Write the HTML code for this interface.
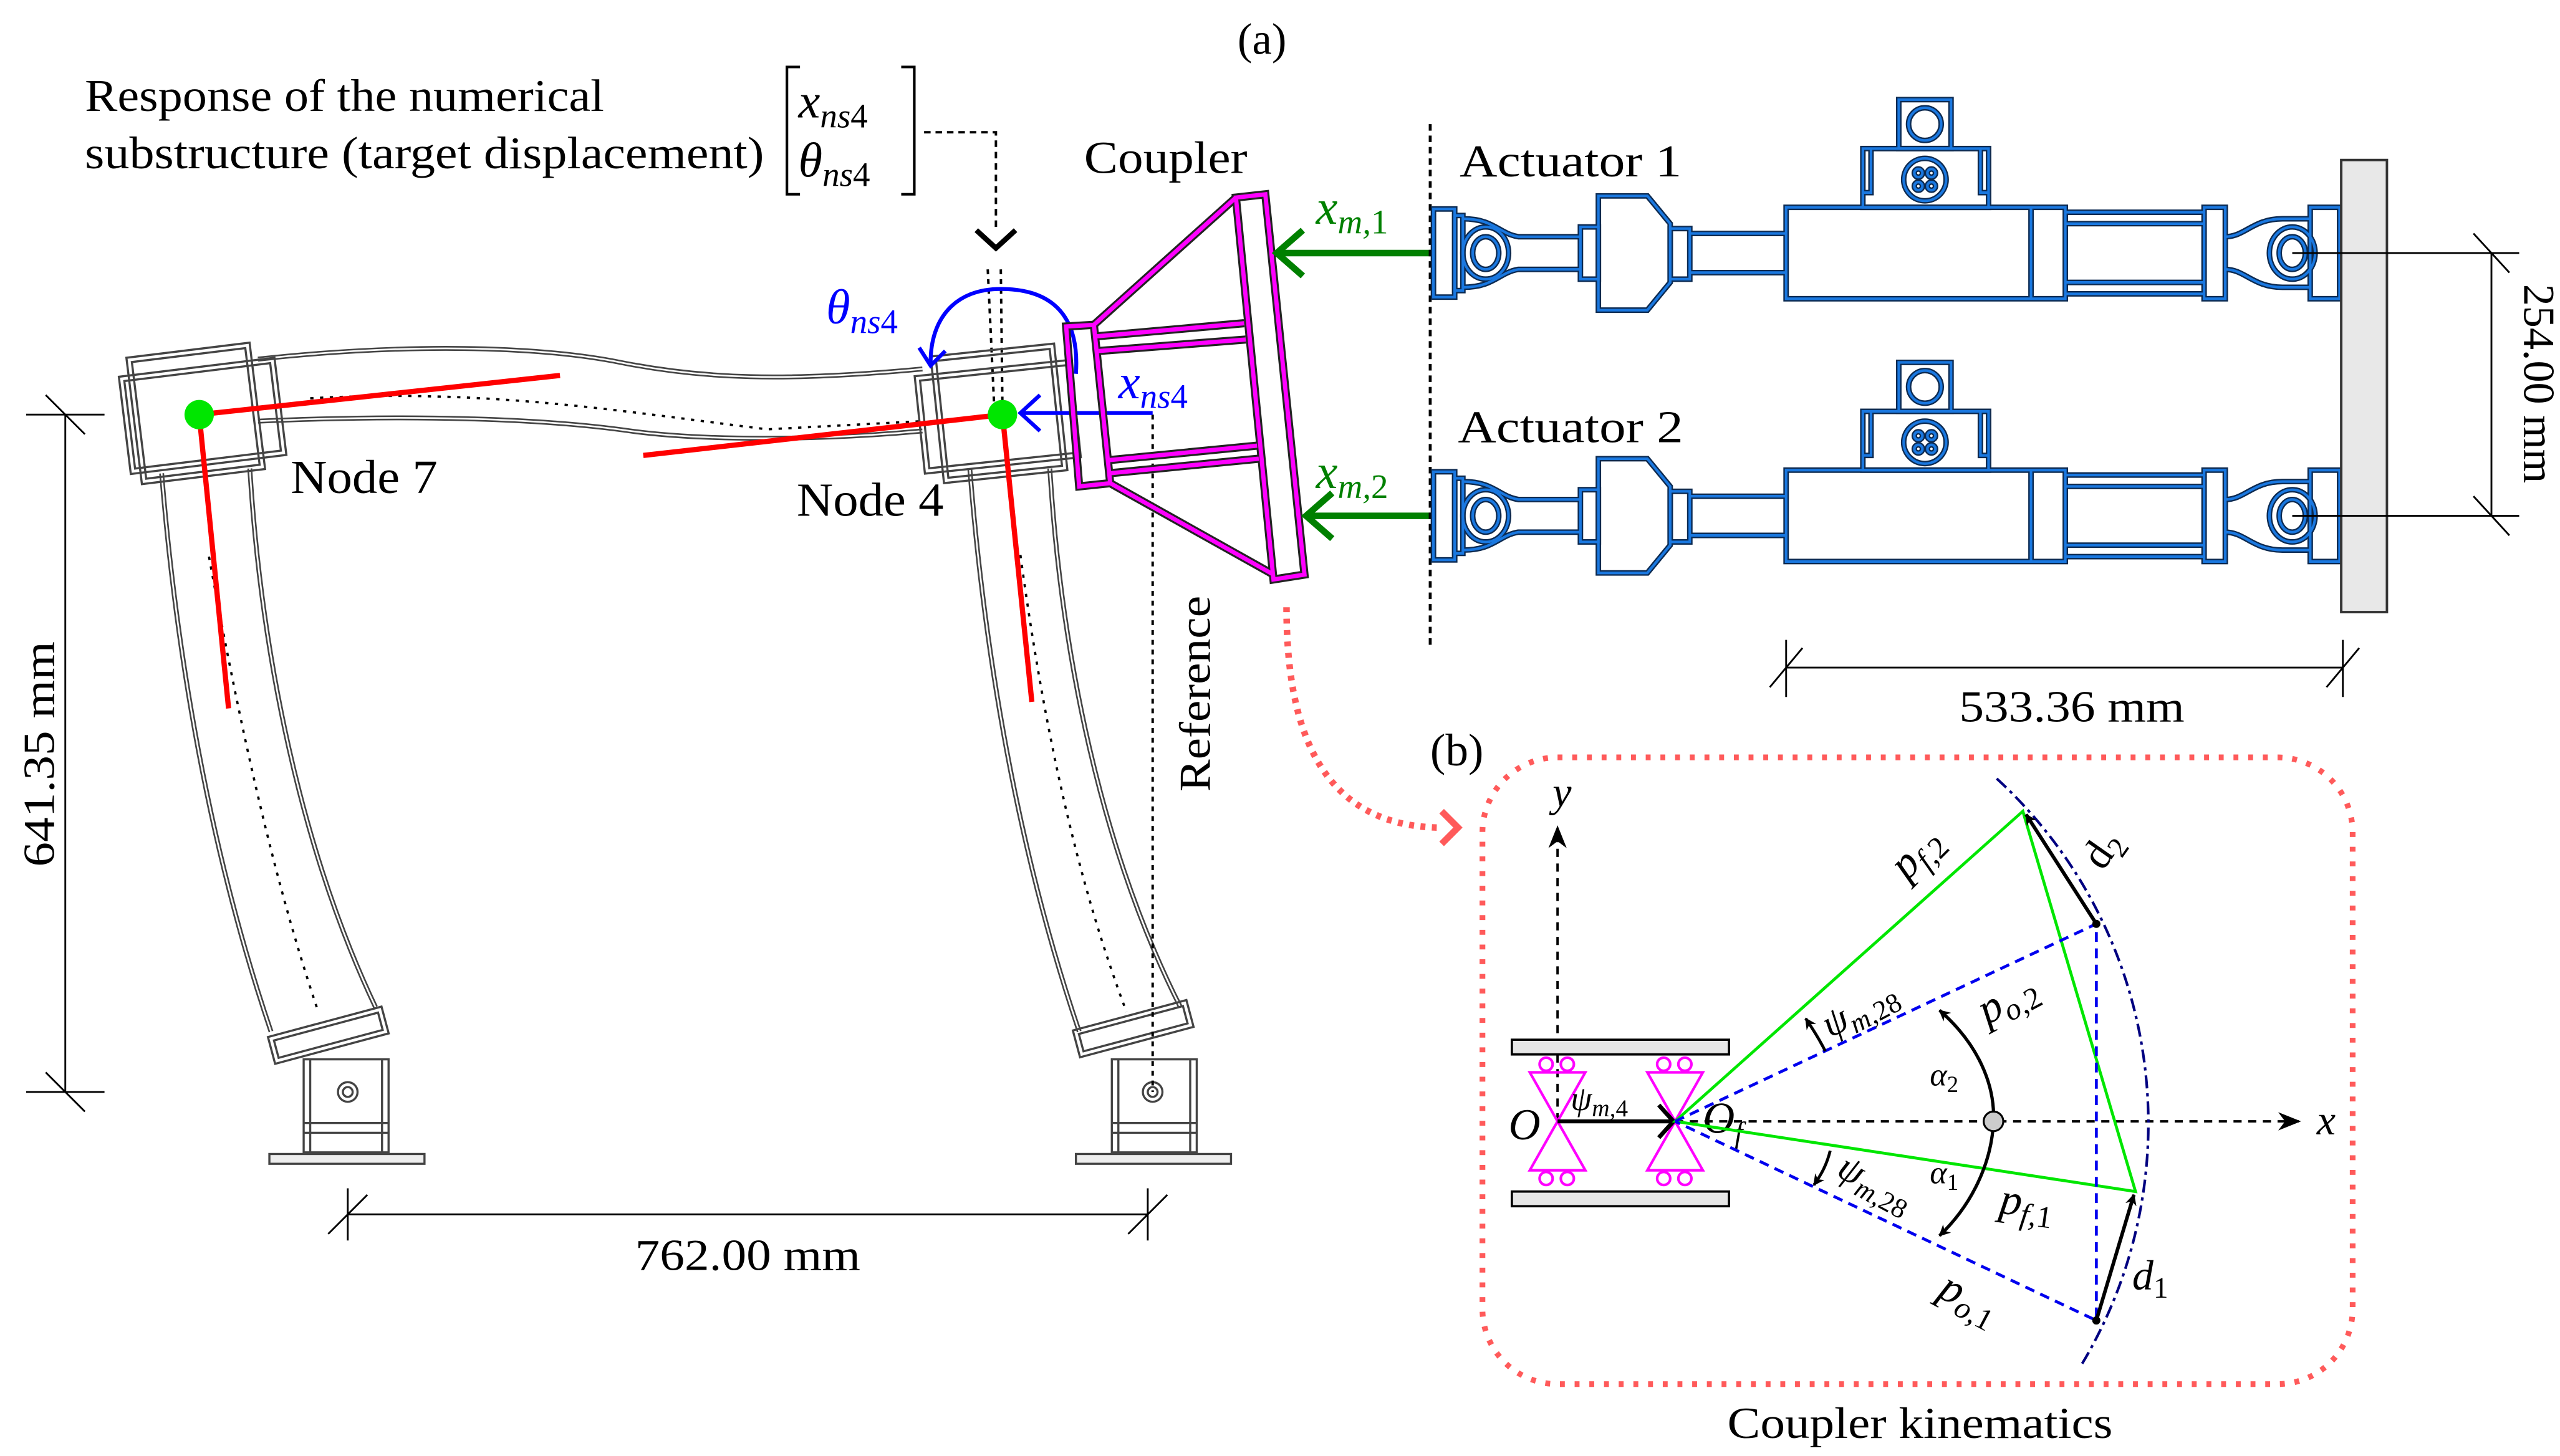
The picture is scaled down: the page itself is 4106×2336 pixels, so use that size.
<!DOCTYPE html>
<html><head><meta charset="utf-8"><style>
html,body{margin:0;padding:0;background:#fff;}
svg{display:block;}
text{font-family:"Liberation Serif",serif;fill:#000;}
.it{font-style:italic;}
</style></head><body>
<svg width="4106" height="2336" viewBox="0 0 1568 892" xmlns="http://www.w3.org/2000/svg">
<defs>
<marker id="ah" viewBox="0 0 10 10" refX="9" refY="5" markerWidth="7" markerHeight="7" orient="auto-start-reverse" markerUnits="userSpaceOnUse"><path d="M0,0 L10,5 L0,10 L3,5z" fill="#000"/></marker>
<marker id="ahs" viewBox="0 0 10 10" refX="9" refY="5" markerWidth="14" markerHeight="14" orient="auto-start-reverse" markerUnits="userSpaceOnUse"><path d="M0,1 L10,5 L0,9 L3,5z" fill="#000"/></marker>
</defs>

<text x="758" y="33" font-size="27">(a)</text>
<text x="52" y="68" font-size="28" textLength="318" lengthAdjust="spacingAndGlyphs">Response of the numerical</text>
<text x="52" y="103" font-size="28" textLength="416" lengthAdjust="spacingAndGlyphs">substructure (target displacement)</text>
<path d="M490,41 H482 V119 H490 M552,41 H560 V119 H552" fill="none" stroke="#000" stroke-width="1.6"/>
<text x="489" y="72" font-size="30" class="it">x<tspan font-size="21" dy="6">ns</tspan><tspan font-size="21" font-style="normal">4</tspan></text>
<text x="489" y="108" font-size="30" class="it">θ<tspan font-size="21" dy="6">ns</tspan><tspan font-size="21" font-style="normal">4</tspan></text>
<path d="M566,81 H610 V142" fill="none" stroke="#000" stroke-width="1.5" stroke-dasharray="4,3"/>
<path d="M598,141 L610,152 L622,141" fill="none" stroke="#000" stroke-width="3.2"/>
<path d="M605,165 L609,250 M613,165 L614,250" stroke="#000" stroke-width="1.5" stroke-dasharray="3,3"/>

<g fill="none">
<g stroke="#444" stroke-width="3"><path d="M99,290 C108,400 128,520 166,632"/><path d="M153,287 C160,400 184,520 230,617"/>
<path d="M594,287 C603,400 623,520 661,632"/><path d="M643,287 C650,400 674,520 723,617"/>
<path d="M158,220 C250,210 330,212 380,222 C430,232 480,234 565,226"/>
<path d="M158,258 C250,254 330,256 386,264 C430,270 500,270 565,264"/></g>
<g stroke="#fff" stroke-width="1"><path d="M99,290 C108,400 128,520 166,632"/><path d="M153,287 C160,400 184,520 230,617"/>
<path d="M594,287 C603,400 623,520 661,632"/><path d="M643,287 C650,400 674,520 723,617"/>
<path d="M158,220 C250,210 330,212 380,222 C430,232 480,234 565,226"/>
<path d="M158,258 C250,254 330,256 386,264 C430,270 500,270 565,264"/></g>
<g stroke="#000" stroke-width="1.4" stroke-dasharray="2,4">
<path d="M190,244 C300,238 380,252 470,263 L565,258"/>
<path d="M128,341 C148,450 168,540 195,620"/>
<path d="M625,340 C640,450 660,540 690,620"/>
</g>
</g>
<g fill="none" stroke="#444" stroke-width="1.3">
<g transform="rotate(-7 122 254)">
<rect x="82" y="214" width="76" height="78"/><rect x="85" y="217" width="70" height="72"/>
<rect x="76" y="225" width="96" height="60"/><rect x="79" y="228" width="90" height="54"/>
</g>
<g transform="rotate(-6 614 254)">
<rect x="574" y="214" width="76" height="78"/><rect x="577" y="217" width="70" height="72"/>
<rect x="563" y="225" width="96" height="60"/><rect x="566" y="228" width="90" height="54"/>
</g>
<g transform="rotate(-15 200 634)"><rect x="165" y="626" width="72" height="17"/><rect x="168" y="629" width="66" height="11"/></g>
<g transform="rotate(-15 693 630)"><rect x="658" y="622" width="72" height="17"/><rect x="661" y="625" width="66" height="11"/></g>
<rect x="186" y="649" width="52" height="57"/><path d="M190,649 V706 M234,649 V706 M186,688 H238 M186,694 H238"/>
<circle cx="213" cy="669" r="6"/><circle cx="213" cy="669" r="3"/>
<rect x="165" y="707" width="95" height="6" fill="#eee"/>
<rect x="681" y="649" width="52" height="57"/><path d="M685,649 V706 M729,649 V706 M681,688 H733 M681,694 H733"/>
<circle cx="706" cy="669" r="6"/><circle cx="706" cy="669" r="3"/>
<rect x="659" y="707" width="95" height="6" fill="#eee"/>
</g>
<g stroke="#ff0000" stroke-width="3.2" fill="none">
<path d="M122,254 L343,230"/><path d="M122,254 L140,434"/>
<path d="M614,254 L394,279"/><path d="M614,254 L632,430"/>
</g>
<circle cx="122" cy="254" r="9" fill="#00e600"/>
<circle cx="614" cy="254" r="9" fill="#00e600"/>
<text x="178" y="302" font-size="29" textLength="90" lengthAdjust="spacingAndGlyphs">Node 7</text>
<text x="488" y="316" font-size="29" textLength="90" lengthAdjust="spacingAndGlyphs">Node 4</text>

<path d="M706,254 V669" stroke="#000" stroke-width="1.5" stroke-dasharray="3,3"/>
<text transform="translate(741,425) rotate(-90)" font-size="27" text-anchor="middle" textLength="120" lengthAdjust="spacingAndGlyphs">Reference</text>
<path d="M706,253 H626" stroke="#0000ff" stroke-width="2.4"/>
<path d="M637,242 L625,253 L637,264" fill="none" stroke="#0000ff" stroke-width="2.4"/>
<text x="685" y="244" font-size="30" class="it" style="fill:#0000ff">x<tspan font-size="21" dy="6">ns</tspan><tspan font-size="21" font-style="normal">4</tspan></text>
<path d="M659,229 C662,185 635,177 613,177 C585,177 570,195 570,222" fill="none" stroke="#0000ff" stroke-width="2.4"/>
<path d="M563,213 L570,224 L579,215" fill="none" stroke="#0000ff" stroke-width="2.4"/>
<text x="506" y="198" font-size="30" class="it" style="fill:#0000ff">θ<tspan font-size="21" dy="6">ns</tspan><tspan font-size="21" font-style="normal">4</tspan></text>

<text x="664" y="106" font-size="28" textLength="100" lengthAdjust="spacingAndGlyphs">Coupler</text>
<g fill="none" stroke-linejoin="miter">
<g stroke="#222" stroke-width="5">
<path d="M757,121 L775,119 L799,352 L780,355 Z"/>
<path d="M653,200 L670,199 L680,296 L661,298 Z"/>
<path d="M670,199 L757,121 M680,296 L780,352"/>
<path d="M672,206 L762,198 M673,215 L763,208 M678,282 L770,273 M679,290 L771,281"/>
</g>
<g stroke="#ff00ff" stroke-width="2.6">
<path d="M757,121 L775,119 L799,352 L780,355 Z"/>
<path d="M653,200 L670,199 L680,296 L661,298 Z"/>
<path d="M670,199 L757,121 M680,296 L780,352"/>
<path d="M672,206 L762,198 M673,215 L763,208 M678,282 L770,273 M679,290 L771,281"/>
</g>
</g>
<g stroke="#008000" stroke-width="4" fill="none">
<path d="M878,155 H782"/><path d="M798,141 L782,155 L798,169"/>
<path d="M878,316 H800"/><path d="M816,302 L800,316 L816,330"/>
</g>
<text x="806" y="137" font-size="30" class="it" style="fill:#008000">x<tspan font-size="21" dy="6">m,</tspan><tspan font-size="21" font-style="normal">1</tspan></text>
<text x="806" y="299" font-size="30" class="it" style="fill:#008000">x<tspan font-size="21" dy="6">m,</tspan><tspan font-size="21" font-style="normal">2</tspan></text>

<path d="M876,76 V397" stroke="#000" stroke-width="1.8" stroke-dasharray="4,3"/>
<text x="894" y="108" font-size="28" textLength="136" lengthAdjust="spacingAndGlyphs">Actuator 1</text>
<text x="893" y="271" font-size="28" textLength="138" lengthAdjust="spacingAndGlyphs">Actuator 2</text>
<g id="act" fill="none">
<g id="actp">
<rect x="878" y="128" width="13" height="54"/>
<rect x="891" y="132" width="5" height="46"/>
<path d="M896,134 C915,134 918,143 930,145 H968 M896,176 C915,176 918,167 930,165 H968"/>
<ellipse cx="910" cy="155" rx="14" ry="16"/><ellipse cx="910" cy="155" rx="8" ry="10"/>
<rect x="968" y="139" width="11" height="32"/>
<path d="M979,120 H1009 L1023,137 V173 L1009,190 H979 Z"/>
<rect x="1023" y="140" width="12" height="31"/>
<path d="M1035,143 H1094 M1035,167 H1094"/>
<rect x="1094" y="127" width="171" height="56"/><path d="M1244,127 V183"/>
<rect x="1141" y="91" width="77" height="36"/><path d="M1146,91 V118 H1141 M1213,91 V118 H1218"/>
<circle cx="1179" cy="110" r="13"/>
<circle cx="1175" cy="106" r="2.5"/><circle cx="1183" cy="106" r="2.5"/><circle cx="1175" cy="114" r="2.5"/><circle cx="1183" cy="114" r="2.5"/>
<rect x="1163" y="61" width="32" height="30"/><circle cx="1179" cy="76" r="10"/>
<path d="M1265,130 H1350 M1265,137 H1350 M1265,173 H1350 M1265,180 H1350"/>
<rect x="1350" y="127" width="13" height="56"/>
<path d="M1363,145 C1375,145 1380,134 1398,134 H1415 M1363,165 C1375,165 1380,176 1398,176 H1415"/>
<ellipse cx="1404" cy="155" rx="14" ry="16"/><ellipse cx="1404" cy="155" rx="8" ry="10"/>
<rect x="1415" y="127" width="18" height="56"/>
</g>
</g>
<g fill="none" stroke="#0d2a50" stroke-width="3.4"><use href="#actp"/><use href="#actp" transform="translate(0,161)"/></g>
<g fill="none" stroke="#1a78e0" stroke-width="1.6"><use href="#actp"/><use href="#actp" transform="translate(0,161)"/></g>
<rect x="1434" y="98" width="28" height="277" fill="#e8e8e8" stroke="#333" stroke-width="1.5"/>
<g stroke="#000" stroke-width="1.1" fill="none">
<path d="M1404,155 H1543 M1404,316 H1543 M1526,155 V316 M1515,143 L1537,167 M1515,304 L1537,328"/>
<path d="M1094,392 V427 M1435,392 V427 M1094,409 H1435 M1084,421 L1104,397 M1425,421 L1445,397"/>
<path d="M40,254 V669 M16,254 H64 M16,669 H64 M28,242 L52,266 M28,657 L52,681"/>
<path d="M213,728 V760 M703,728 V760 M213,744 H703 M201,756 L225,732 M691,756 L715,732"/>
</g>
<text transform="translate(1546,235) rotate(90)" font-size="27" text-anchor="middle" textLength="122" lengthAdjust="spacingAndGlyphs">254.00 mm</text>
<text x="1269" y="442" font-size="27" text-anchor="middle" textLength="138" lengthAdjust="spacingAndGlyphs">533.36 mm</text>
<text transform="translate(33,462) rotate(-90)" font-size="27" text-anchor="middle" textLength="138" lengthAdjust="spacingAndGlyphs">641.35 mm</text>
<text x="458" y="778" font-size="27" text-anchor="middle" textLength="138" lengthAdjust="spacingAndGlyphs">762.00 mm</text>

<path d="M788,372 C788,440 805,505 880,507" fill="none" stroke="#ff5a5a" stroke-width="4" stroke-dasharray="3,4"/>
<path d="M883,497 L893,507 L883,517" fill="none" stroke="#ff5a5a" stroke-width="4"/>

<text x="876" y="469" font-size="28">(b)</text>
<rect x="908" y="464" width="533" height="384" rx="46" fill="none" stroke="#ff5a5a" stroke-width="3.5" stroke-dasharray="3,6"/>
<text x="1176" y="881" font-size="27" text-anchor="middle" textLength="236" lengthAdjust="spacingAndGlyphs">Coupler kinematics</text>
<path d="M954,687 V507" stroke="#000" stroke-width="1.5" stroke-dasharray="5,4" marker-end="url(#ahs)"/>
<text x="951" y="494" font-size="26" class="it">y</text>
<path d="M954,687 H1408" stroke="#000" stroke-width="1.5" stroke-dasharray="5,4" marker-end="url(#ahs)"/>
<text x="1419" y="695" font-size="26" class="it">x</text>
<rect x="926" y="637" width="133" height="9" fill="#e6e6e6" stroke="#000" stroke-width="1.4"/>
<rect x="926" y="730" width="133" height="9" fill="#e6e6e6" stroke="#000" stroke-width="1.4"/>
<g fill="none" stroke="#ff00ff" stroke-width="1.6">
<path d="M937,657 H971 L954,687 L937,717 H971 L954,687 Z"/>
<path d="M1009,657 H1043 L1026,687 L1009,717 H1043 L1026,687 Z"/>
<circle cx="947" cy="652" r="4"/><circle cx="960" cy="652" r="4"/><circle cx="947" cy="722" r="4"/><circle cx="960" cy="722" r="4"/>
<circle cx="1019" cy="652" r="4"/><circle cx="1032" cy="652" r="4"/><circle cx="1019" cy="722" r="4"/><circle cx="1032" cy="722" r="4"/>
</g>
<text x="924" y="698" font-size="27" class="it">O</text>
<text x="1043" y="694" font-size="27" class="it">O<tspan font-size="18" dy="6">f</tspan></text>
<path d="M954,687 H1025" stroke="#000" stroke-width="2.4"/>
<path d="M1016,677 L1025,687 L1016,697" fill="none" stroke="#000" stroke-width="2.6"/>
<text x="962" y="680" font-size="21" class="it">ψ<tspan font-size="15" dy="4">m,</tspan><tspan font-size="15" font-style="normal">4</tspan></text>
<path d="M1026,687 L1239,497 L1308,730 Z" fill="none" stroke="#00e600" stroke-width="1.8"/>
<path d="M1026,687 L1284,566 V809 L1026,687" fill="none" stroke="#0000ee" stroke-width="1.8" stroke-dasharray="6,4"/>
<path d="M1223,477 A287,287 0 0 1 1275,836" fill="none" stroke="#000080" stroke-width="1.6" stroke-dasharray="8,3,2,3"/>
<path d="M1284,566 L1241,499" stroke="#000" stroke-width="2.2" marker-end="url(#ah)"/>
<path d="M1284,809 L1307,732" stroke="#000" stroke-width="2.2" marker-end="url(#ah)"/>
<circle cx="1284" cy="566" r="2.5"/><circle cx="1284" cy="809" r="2.5"/>
<text transform="translate(1288,534) rotate(-55)" font-size="26">d<tspan font-size="18" dy="5">2</tspan></text>
<text x="1306" y="790" font-size="26" class="it">d<tspan font-size="18" dy="5" font-style="normal">1</tspan></text>
<path d="M1188,619 C1212,640 1222,665 1221,687 C1220,712 1208,738 1188,757" fill="none" stroke="#000" stroke-width="2" marker-start="url(#ah)" marker-end="url(#ah)"/>
<circle cx="1221" cy="687" r="6" fill="#ccc" stroke="#000" stroke-width="1.2"/>
<text x="1182" y="665" font-size="20" class="it">α<tspan font-size="14" dy="4" font-style="normal">2</tspan></text>
<text x="1182" y="725" font-size="20" class="it">α<tspan font-size="14" dy="4" font-style="normal">1</tspan></text>
<path d="M1118,644 C1114,636 1110,630 1106,624" fill="none" stroke="#000" stroke-width="1.8" marker-end="url(#ah)"/>
<path d="M1121,705 C1119,713 1116,719 1111,726" fill="none" stroke="#000" stroke-width="1.8" marker-end="url(#ah)"/>
<text transform="translate(1121,636) rotate(-28)" font-size="24" class="it">ψ<tspan font-size="17" dy="5">m,</tspan><tspan font-size="17" font-style="normal">28</tspan></text>
<text transform="translate(1124,720) rotate(28)" font-size="24" class="it">ψ<tspan font-size="17" dy="5">m,</tspan><tspan font-size="17" font-style="normal">28</tspan></text>
<text transform="translate(1168,540) rotate(-45)" font-size="27" class="it">p<tspan font-size="19" dy="5">f,</tspan><tspan font-size="19" font-style="normal">2</tspan></text>
<text transform="translate(1217,628) rotate(-28)" font-size="27" class="it">p<tspan font-size="19" dy="5">o,</tspan><tspan font-size="19" font-style="normal">2</tspan></text>
<text transform="translate(1224,743) rotate(8)" font-size="27" class="it">p<tspan font-size="19" dy="5">f,</tspan><tspan font-size="19" font-style="normal">1</tspan></text>
<text transform="translate(1186,794) rotate(28)" font-size="27" class="it">p<tspan font-size="19" dy="5">o,</tspan><tspan font-size="19" font-style="normal">1</tspan></text>
</svg>
</body></html>
